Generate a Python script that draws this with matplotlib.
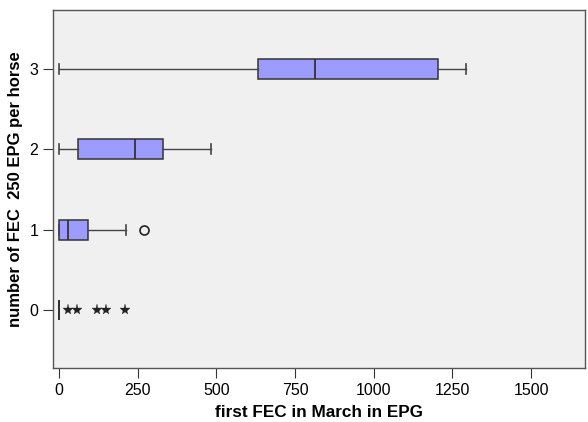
import matplotlib
matplotlib.use('Agg')
import matplotlib.pyplot as plt

plt.rcParams['font.family'] = ['Liberation Sans', 'DejaVu Sans']

groups = [0, 1, 2, 3]
# lower whisker, q1, median, q3, upper whisker
whislo = [0, 0, 0, 0]
q1 = [0, 0, 61, 633]
med = [0, 30, 241, 814]
q3 = [0, 91, 331, 1205]
whishi = [0, 213, 483, 1293]
outliers_circle = [[], [271], [], []]
extremes_star = [[30, 59, 120, 149, 210], [], [], []]

xticks = [0, 250, 500, 750, 1000, 1250, 1500]
box_w = 0.25

fig = plt.figure(figsize=(5.88, 4.22), dpi=100)
ax = fig.add_axes([0.090, 0.128, 0.905, 0.848])
ax.set_facecolor('#f0f0f0')

stats = []
for i in range(len(groups)):
    stats.append({'whislo': whislo[i], 'q1': q1[i], 'med': med[i], 'q3': q3[i],
                  'whishi': whishi[i], 'fliers': []})

ax.bxp(stats, positions=groups, vert=False, widths=box_w, capwidths=box_w / 2,
       patch_artist=True, showfliers=False,
       boxprops=dict(facecolor='#9c9cff', edgecolor='#333333', linewidth=1.1),
       medianprops=dict(color='#333333', linewidth=1.3),
       whiskerprops=dict(color='#444444', linewidth=1.0),
       capprops=dict(color='#444444', linewidth=1.2))

for i in range(len(groups)):
    # degenerate box (all values equal) drawn as a line of full box height
    if q1[i] == q3[i]:
        ax.vlines(med[i], groups[i] - box_w / 2, groups[i] + box_w / 2,
                  color='#333333', linewidth=1.3)
    if outliers_circle[i]:
        ax.plot(outliers_circle[i], [groups[i]] * len(outliers_circle[i]), 'o',
                mfc='none', mec='#222222', ms=6.5, mew=1.2)
    if extremes_star[i]:
        ax.plot(extremes_star[i], [groups[i]] * len(extremes_star[i]), '*',
                color='#222222', ms=8, mew=0.2)

ax.set_xlim(-19, 1671)
ax.set_ylim(-0.72, 3.73)
ax.set_xticks(xticks)
ax.set_xticklabels([str(t) for t in xticks])
ax.set_yticks(groups)
ax.set_yticklabels([str(g) for g in groups])
ax.tick_params(axis='both', labelsize=11.5, length=7, color='#333333', direction='out')
for s in ax.spines.values():
    s.set_color('#555555')
    s.set_linewidth(1.0)

ax.set_xlabel('first FEC in March in EPG', fontsize=12.3, fontweight='bold', labelpad=5)
ax.set_ylabel('number of FEC  250 EPG per horse', fontsize=12, fontweight='bold', labelpad=5)

fig.savefig('out.png', dpi=100)
